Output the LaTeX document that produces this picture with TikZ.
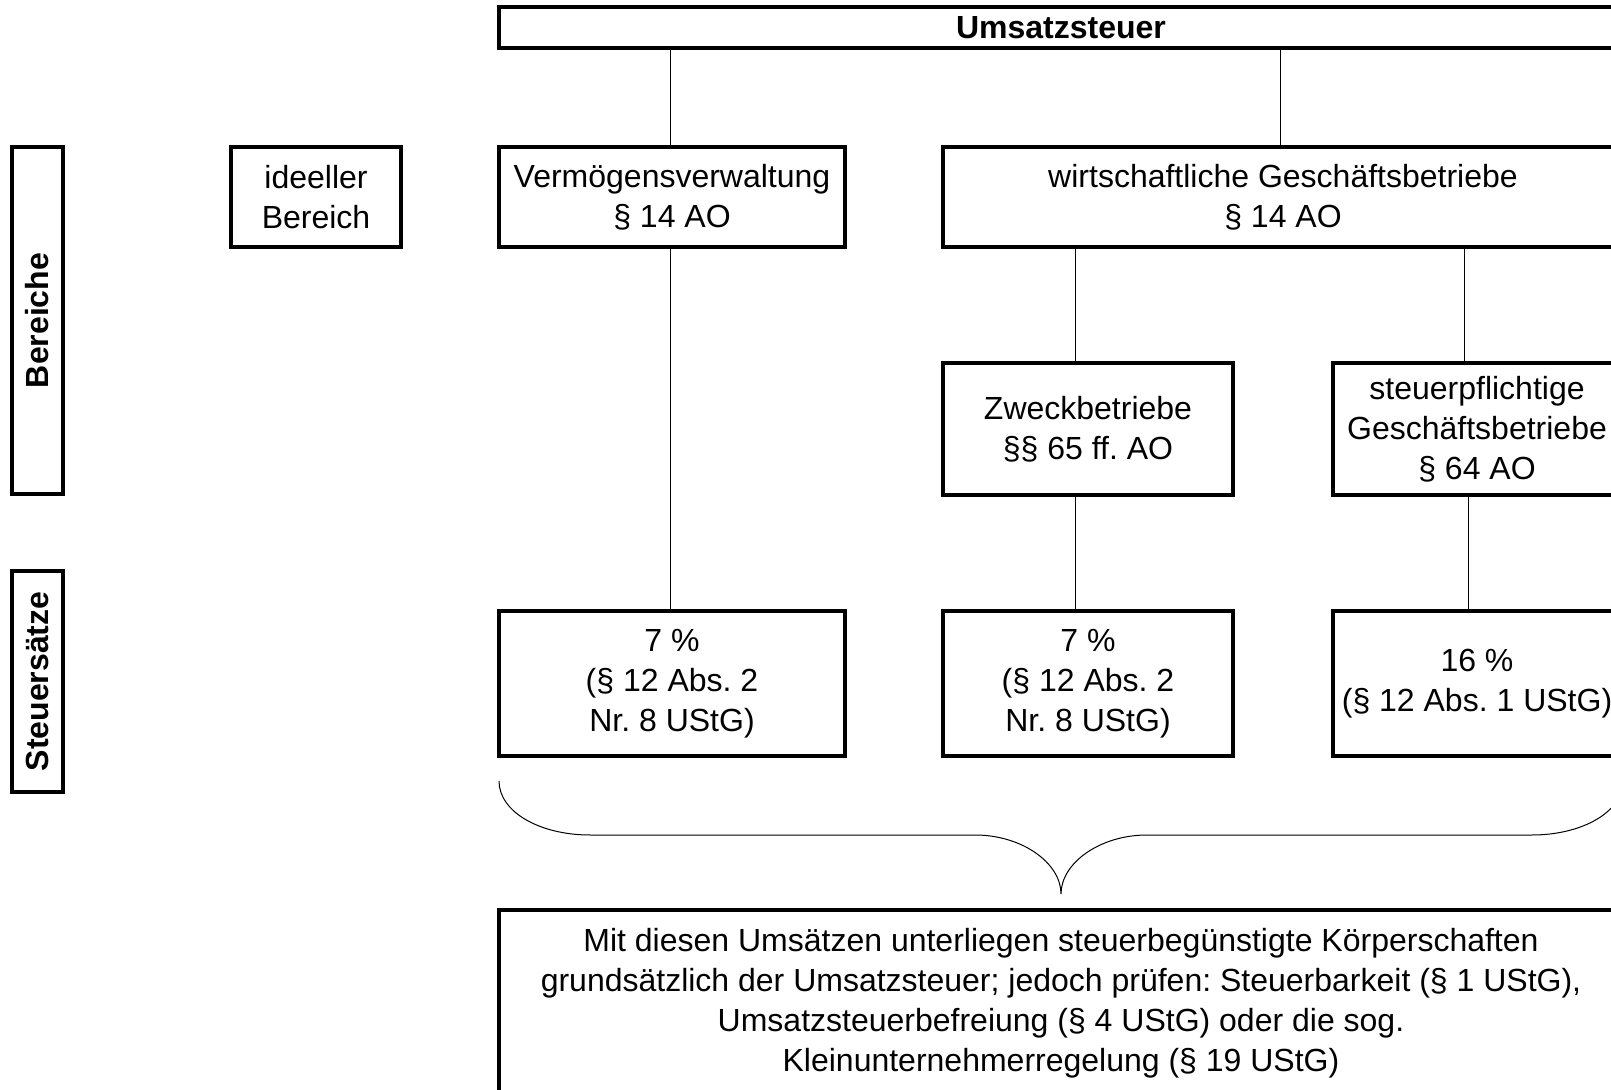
\documentclass[tikz,border=0pt]{standalone}
\usepackage{fontspec}
\setmainfont{Liberation Sans}
\usepackage{tikz}
\frenchspacing

\begin{document}
\begin{tikzpicture}[x=0.5pt, y=-0.5pt, line width=0.5pt,
  box/.style={draw, line width=1.6pt, inner sep=0pt, align=center, font=\fontsize{16}{20}\selectfont},
  side/.style={box, rotate=90, font=\fontsize{16}{20}\selectfont\bfseries}]
   \path[use as bounding box] (0,0) rectangle (1611,1090);
   \clip (0,0) rectangle (1611,1090);

   \node [box, minimum width=562pt, minimum height=20.5pt, font=\fontsize{16}{20}\selectfont\bfseries] (ust) at (1061,27.5) {Umsatzsteuer};
   \node [box, minimum width=85pt, minimum height=50pt] (ideell) at (316,197) {ideeller\\Bereich};
   \node [box, minimum width=173pt, minimum height=50pt] (verm) at (672,197) {Vermögensverwaltung\\§ 14 AO};
   \node [box, minimum width=340pt, minimum height=50pt] (wirt) at (1283,197) {wirtschaftliche Geschäftsbetriebe\\§ 14 AO};
   \node [box, minimum width=145pt, minimum height=66pt] (zweck) at (1088,429) {Zweckbetriebe\\§§ 65 ff. AO};
   \node [box, minimum width=144pt, minimum height=66pt] (stpfl) at (1477,429) {steuerpflichtige\\Geschäftsbetriebe\\§ 64 AO};
   \node [box, minimum width=173pt, minimum height=72.5pt] (satzverm) at (672,683.5) {7 \%\\(§ 12 Abs. 2\\Nr. 8 UStG)};
   \node [box, minimum width=145pt, minimum height=72.5pt] (satzzweck) at (1088,683.5) {7 \%\\(§ 12 Abs. 2\\Nr. 8 UStG)};
   \node [box, minimum width=144pt, minimum height=72.5pt] (satzstpfl) at (1477,683.5) {16 \%\\(§ 12 Abs. 1 UStG)};
   \node [box, minimum width=562pt, minimum height=93pt] (hinweis) at (1061,1003) {Mit diesen Umsätzen unterliegen steuerbegünstigte Körperschaften\\grundsätzlich der Umsatzsteuer; jedoch prüfen: Steuerbarkeit (§ 1 UStG),\\Umsatzsteuerbefreiung (§ 4 UStG) oder die sog.\\Kleinunternehmerregelung (§ 19 UStG)};
   \node [side, minimum width=173.5pt, minimum height=25.5pt] (bereiche) at (37.5,320.5) {Bereiche};
   \node [side, minimum width=110.5pt, minimum height=25.5pt] (saetze) at (37.5,681.5) {Steuersätze};

   \draw ([xshift=-1pt]verm.north) -- ([xshift=-1pt]verm.north |- ust.south);
   \draw ([xshift=-1.5pt]wirt.north) -- ([xshift=-1.5pt]wirt.north |- ust.south);
   \draw ([xshift=-1pt]verm.south) -- ([xshift=-1pt]satzverm.north);
   \draw ([xshift=-6.5pt]zweck.north) -- ([xshift=-6.5pt]zweck.north |- wirt.south);
   \draw ([xshift=-6.5pt]zweck.south) -- ([xshift=-6.5pt]satzzweck.north);
   \draw ([xshift=-6.5pt]stpfl.north) -- ([xshift=-6.5pt]stpfl.north |- wirt.south);
   \draw ([xshift=-4.5pt]stpfl.south) -- ([xshift=-4.5pt]satzstpfl.north);

   \draw (499,781) .. controls (499,812) and (540,835) .. (590,835) -- (975,835)
     .. controls (1022,835) and (1061,863) .. (1061,894)
     .. controls (1061,863) and (1100,835) .. (1147,835) -- (1532,835)
     .. controls (1582,835) and (1623,812) .. (1623,781);
\end{tikzpicture}
\end{document}
